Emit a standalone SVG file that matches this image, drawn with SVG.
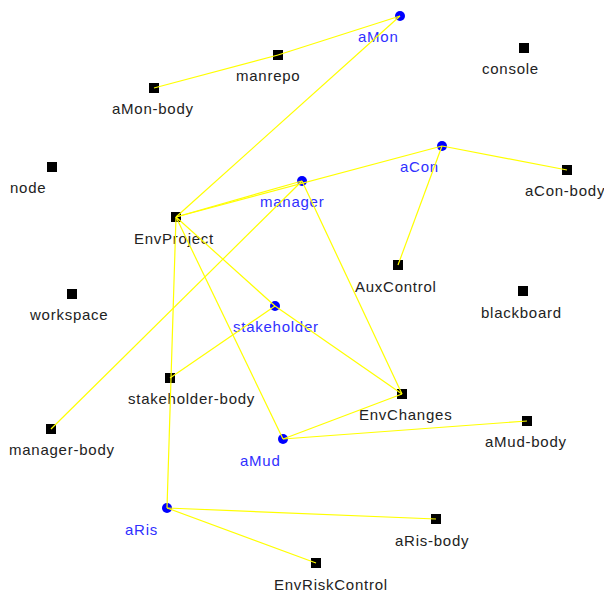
<svg xmlns="http://www.w3.org/2000/svg" width="604" height="597" viewBox="0 0 604 597">
<style>
.sq{fill:#000}
.ci{fill:#0000ff}
.t{font-family:"Liberation Sans",Arial,sans-serif;font-size:15px;letter-spacing:0.75px;fill:#222}
.b{fill:#3030ff}
#edges line{stroke:#ffff00;stroke-width:1.2}
</style>
<rect width="604" height="597" fill="#fff"/>
<g id="aMon"><circle class="ci" cx="400" cy="16" r="5"/><text class="t b" x="358" y="42">aMon</text></g>
<g id="manrepo"><rect class="sq" x="273" y="50" width="10" height="10"/><text class="t" x="236" y="81">manrepo</text></g>
<g id="aMon-body"><rect class="sq" x="149" y="83" width="10" height="10"/><text class="t" x="112" y="114">aMon-body</text></g>
<g id="console"><rect class="sq" x="519" y="43" width="10" height="10"/><text class="t" x="482" y="74">console</text></g>
<g id="aCon"><circle class="ci" cx="442" cy="146" r="5"/><text class="t b" x="400" y="172">aCon</text></g>
<g id="aCon-body"><rect class="sq" x="562" y="165" width="10" height="10"/><text class="t" x="525" y="196">aCon-body</text></g>
<g id="node"><rect class="sq" x="47" y="162" width="10" height="10"/><text class="t" x="10" y="193">node</text></g>
<g id="manager"><circle class="ci" cx="302" cy="181" r="5"/><text class="t b" x="260" y="207">manager</text></g>
<g id="EnvProject"><rect class="sq" x="171" y="212" width="10" height="10"/><text class="t" x="134" y="244">EnvProject</text></g>
<g id="AuxControl"><rect class="sq" x="393" y="260" width="10" height="10"/><text class="t" x="355" y="292">AuxControl</text></g>
<g id="blackboard"><rect class="sq" x="518" y="286" width="10" height="10"/><text class="t" x="481" y="318">blackboard</text></g>
<g id="workspace"><rect class="sq" x="67" y="289" width="10" height="10"/><text class="t" x="30" y="320">workspace</text></g>
<g id="stakeholder"><circle class="ci" cx="275" cy="306" r="5"/><text class="t b" x="233" y="332">stakeholder</text></g>
<g id="stakeholder-body"><rect class="sq" x="165" y="373" width="10" height="10"/><text class="t" x="128" y="404">stakeholder-body</text></g>
<g id="manager-body"><rect class="sq" x="46" y="424" width="10" height="10"/><text class="t" x="9" y="455">manager-body</text></g>
<g id="EnvChanges"><rect class="sq" x="397" y="389" width="10" height="10"/><text class="t" x="359" y="420">EnvChanges</text></g>
<g id="aMud-body"><rect class="sq" x="522" y="416" width="10" height="10"/><text class="t" x="485" y="447">aMud-body</text></g>
<g id="aMud"><circle class="ci" cx="283" cy="439" r="5"/><text class="t b" x="240" y="466">aMud</text></g>
<g id="aRis"><circle class="ci" cx="167" cy="508" r="5"/><text class="t b" x="125" y="535">aRis</text></g>
<g id="aRis-body"><rect class="sq" x="431" y="514" width="10" height="10"/><text class="t" x="395" y="546">aRis-body</text></g>
<g id="EnvRiskControl"><rect class="sq" x="311" y="558" width="10" height="10"/><text class="t" x="274" y="590">EnvRiskControl</text></g>
<g id="edges">
<line x1="154" y1="88" x2="278" y2="55"/>
<line x1="278" y1="55" x2="400" y2="16"/>
<line x1="400" y1="16" x2="176" y2="217"/>
<line x1="176" y1="217" x2="302" y2="181"/>
<line x1="176" y1="217" x2="442" y2="146"/>
<line x1="442" y1="146" x2="567" y2="170"/>
<line x1="442" y1="146" x2="398" y2="265"/>
<line x1="302" y1="181" x2="51" y2="429"/>
<line x1="302" y1="181" x2="402" y2="394"/>
<line x1="176" y1="217" x2="275" y2="306"/>
<line x1="176" y1="217" x2="283" y2="439"/>
<line x1="176" y1="217" x2="167" y2="508"/>
<line x1="275" y1="306" x2="170" y2="378"/>
<line x1="275" y1="306" x2="402" y2="394"/>
<line x1="283" y1="439" x2="402" y2="394"/>
<line x1="283" y1="439" x2="527" y2="421"/>
<line x1="167" y1="508" x2="436" y2="519"/>
<line x1="167" y1="508" x2="316" y2="563"/>
</g>
</svg>
